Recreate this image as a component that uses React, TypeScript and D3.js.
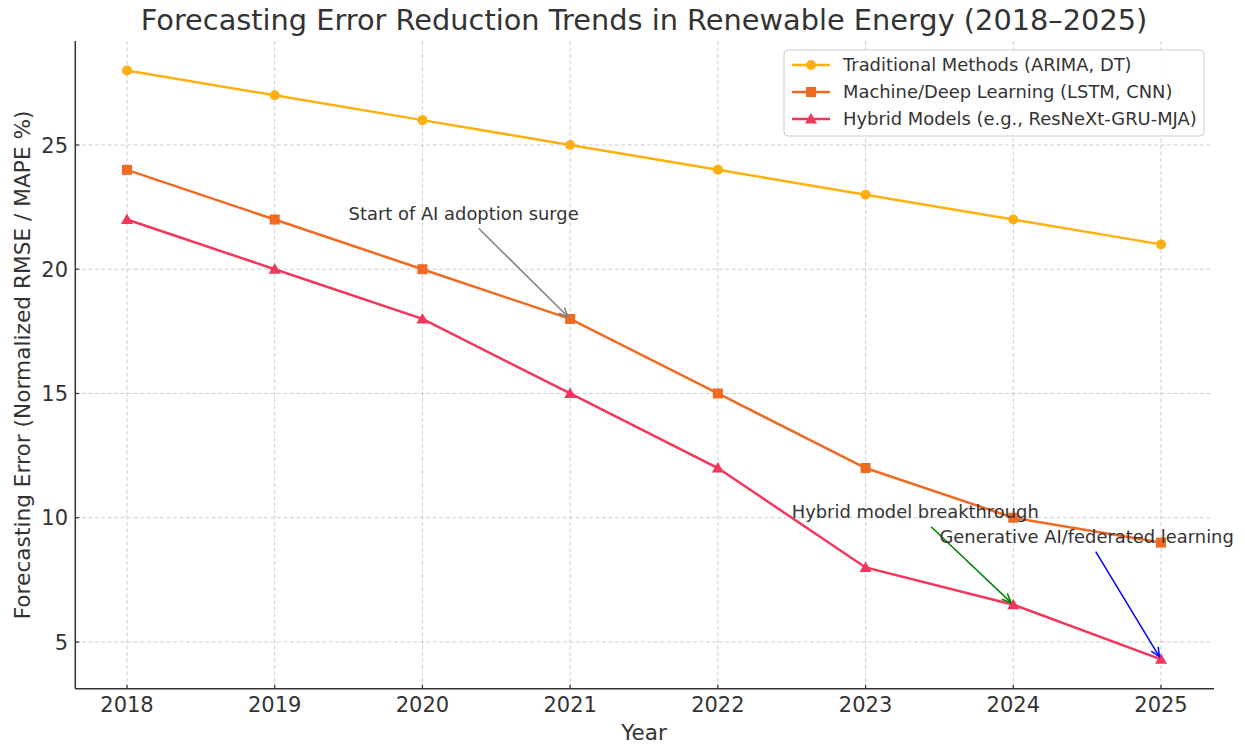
import * as d3 from 'd3';
import { useEffect, useRef } from 'react';

const years = [2018, 2019, 2020, 2021, 2022, 2023, 2024, 2025];
const traditional = [28, 27, 26, 25, 24, 23, 22, 21];
const machineDeep = [24, 22, 20, 18, 15, 12, 10, 9];
const hybrid = [22, 20, 18, 15, 12, 8, 6.5, 4.3];
const yTicks = [5, 10, 15, 20, 25];

const seriesNames = [
  'Traditional Methods (ARIMA, DT)',
  'Machine/Deep Learning (LSTM, CNN)',
  'Hybrid Models (e.g., ResNeXt-GRU-MJA)',
];
const seriesColors = ['#FDB00F', '#F06A22', '#F2365C'];
const seriesMarkers = ['circle', 'square', 'triangle'];

const noteLabels = ['Start of AI adoption surge', 'Hybrid model breakthrough', 'Generative AI/federated learning'];
const noteYears = [2021, 2024, 2025];
const noteValues = [18, 6.5, 4.3];
const noteTextYears = [2019.5, 2022.5, 2023.5];
const noteTextValues = [22, 10, 9];
const noteColors = ['#808080', 'green', 'blue'];

const W = 1245;
const H = 744;
const FONT = '"DejaVu Sans", Verdana, sans-serif';

export default function App() {
  const ref = useRef<SVGSVGElement | null>(null);
  useEffect(() => {
    if (!ref.current) return;
    const svg = d3.select(ref.current);
    svg.selectAll('*').remove();

    const x = d3.scaleLinear().domain([2017.65, 2025.35]).range([75.3, 1212.7]);
    const y = d3.scaleLinear().domain([3.115, 29.185]).range([688.8, 41]);
    const [x0, x1] = x.range();
    const [yb, yt] = y.range();
    const ink = '#333333';

    // grid
    const grid = svg.append('g').attr('stroke', '#c8c8c8').attr('stroke-width', 0.9).attr('stroke-dasharray', '4,2.5');
    years.forEach((yr) => grid.append('line').attr('x1', x(yr)).attr('x2', x(yr)).attr('y1', yt).attr('y2', yb));
    yTicks.forEach((v) => grid.append('line').attr('x1', x0).attr('x2', x1).attr('y1', y(v)).attr('y2', y(v)));

    // spines + ticks
    svg.append('line').attr('x1', x0).attr('x2', x0).attr('y1', yt).attr('y2', yb).attr('stroke', ink).attr('stroke-width', 1.5);
    svg.append('line').attr('x1', x0).attr('x2', 1214).attr('y1', yb).attr('y2', yb).attr('stroke', ink).attr('stroke-width', 1.5);
    years.forEach((yr) => {
      svg.append('line').attr('x1', x(yr)).attr('x2', x(yr)).attr('y1', yb).attr('y2', yb - 4).attr('stroke', ink).attr('stroke-width', 1.2);
      svg.append('text').attr('x', x(yr)).attr('y', 712).attr('text-anchor', 'middle')
        .attr('font-family', FONT).attr('font-size', 21).attr('fill', ink).text(String(yr));
    });
    yTicks.forEach((v) => {
      svg.append('line').attr('x1', x0).attr('x2', x0 + 4).attr('y1', y(v)).attr('y2', y(v)).attr('stroke', ink).attr('stroke-width', 1.2);
      svg.append('text').attr('x', 68).attr('y', y(v)).attr('dy', '0.36em').attr('text-anchor', 'end')
        .attr('font-family', FONT).attr('font-size', 21).attr('fill', ink).text(String(v));
    });

    // labels
    svg.append('text').attr('x', 644).attr('y', 30).attr('text-anchor', 'middle')
      .attr('font-family', FONT).attr('font-size', 28.8).attr('fill', ink)
      .text('Forecasting Error Reduction Trends in Renewable Energy (2018–2025)');
    svg.append('text').attr('x', 644).attr('y', 740).attr('text-anchor', 'middle')
      .attr('font-family', FONT).attr('font-size', 21.5).attr('fill', ink).text('Year');
    svg.append('text').attr('transform', `translate(30,${(yt + yb) / 2}) rotate(-90)`).attr('text-anchor', 'middle')
      .attr('font-family', FONT).attr('font-size', 21.7).attr('fill', ink).text('Forecasting Error (Normalized RMSE / MAPE %)');

    const drawMarker = (g: d3.Selection<SVGGElement, unknown, null, undefined>, kind: string, cx: number, cy: number, color: string) => {
      if (kind === 'circle') g.append('circle').attr('cx', cx).attr('cy', cy).attr('r', 5).attr('fill', color);
      else if (kind === 'square') g.append('rect').attr('x', cx - 5).attr('y', cy - 5).attr('width', 10).attr('height', 10).attr('fill', color);
      else g.append('path').attr('d', `M${cx},${cy - 6} L${cx + 6},${cy + 4.5} L${cx - 6},${cy + 4.5} Z`).attr('fill', color);
    };

    const line = d3.line<number>().x((_, i) => x(years[i])).y((d) => y(d));
    [traditional, machineDeep, hybrid].forEach((vals, s) => {
      const g = svg.append('g');
      g.append('path').attr('d', line(vals) || '').attr('fill', 'none').attr('stroke', seriesColors[s]).attr('stroke-width', 2.5);
      vals.forEach((v, i) => drawMarker(g, seriesMarkers[s], x(years[i]), y(v), seriesColors[s]));
    });

    // annotations
    noteLabels.forEach((label, i) => {
      const tx = x(noteTextYears[i]);
      const ty = y(noteTextValues[i]);
      const t = svg.append('text').attr('x', tx).attr('y', ty).attr('font-family', FONT).attr('font-size', 17.9)
        .attr('fill', ink).text(label);
      const tw = (t.node() as SVGTextElement).getComputedTextLength();
      const cx = tx + tw / 2;
      const cy = ty - 6;
      const ex = x(noteYears[i]);
      const ey = y(noteValues[i]);
      const sy = ty + 9;
      const frac = (sy - cy) / (ey - cy);
      const sx = cx + (ex - cx) * frac;
      const ang = Math.atan2(ey - sy, ex - sx);
      const bx = ex - 3 * Math.cos(ang);
      const by = ey - 3 * Math.sin(ang);
      const c = noteColors[i];
      svg.append('line').attr('x1', sx).attr('y1', sy).attr('x2', bx).attr('y2', by).attr('stroke', c).attr('stroke-width', 1.5);
      const hl = 10;
      const ha = 0.42;
      svg.append('path')
        .attr('d', `M${bx - hl * Math.cos(ang - ha)},${by - hl * Math.sin(ang - ha)} L${bx},${by} L${bx - hl * Math.cos(ang + ha)},${by - hl * Math.sin(ang + ha)}`)
        .attr('fill', 'none').attr('stroke', c).attr('stroke-width', 1.5);
    });

    // legend
    const lg = svg.append('g');
    lg.append('rect').attr('x', 784).attr('y', 50).attr('width', 420).attr('height', 86).attr('rx', 4)
      .attr('fill', 'white').attr('fill-opacity', 0.85).attr('stroke', '#cccccc').attr('stroke-width', 1);
    seriesNames.forEach((name, i) => {
      const ly = 65 + i * 27;
      lg.append('line').attr('x1', 792).attr('x2', 830).attr('y1', ly).attr('y2', ly).attr('stroke', seriesColors[i]).attr('stroke-width', 2.5);
      drawMarker(lg, seriesMarkers[i], 811, ly, seriesColors[i]);
      lg.append('text').attr('x', 843).attr('y', ly).attr('dy', '0.36em').attr('font-family', FONT).attr('font-size', 17.9)
        .attr('fill', ink).text(name);
    });
  }, []);

  return <svg ref={ref} width={W} height={H} style={{ position: 'absolute', left: 0, top: 0, background: 'white' }} />;
}
